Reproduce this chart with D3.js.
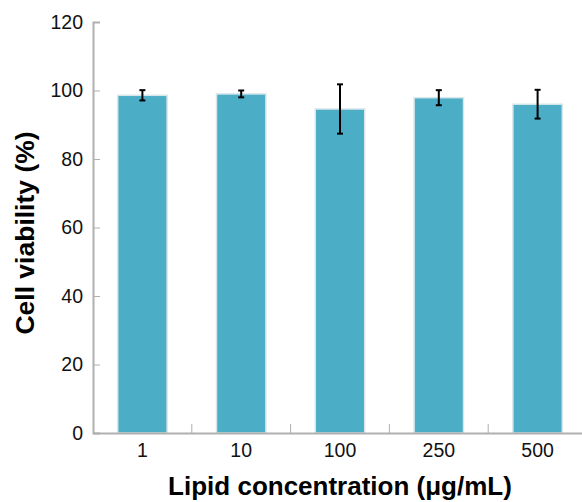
<!DOCTYPE html>
<html>
<head>
<meta charset="utf-8">
<script src="https://cdn.jsdelivr.net/npm/d3@7"></script>
<style>
  body { margin: 0; background: #fff; }
  text { font-family: "Liberation Sans", Arial, sans-serif; }
</style>
</head>
<body>
<div id="chart"></div>
<script>
var categories = ["1", "10", "100", "250", "500"];
var viability = [98.6, 99.0, 94.6, 97.9, 96.0];
var errors = [1.5, 1.0, 7.2, 2.2, 4.2];
var yTicks = [0, 20, 40, 60, 80, 100, 120];

var data = categories.map(function (c, i) {
    return { cat: c, value: viability[i], err: errors[i] };
});

var width = 582, height = 502;
var margin = { top: 22, right: -5, bottom: 69, left: 93 };

var svg = d3.select("#chart").append("svg")
    .attr("width", width)
    .attr("height", height);

var x = d3.scaleBand()
    .domain(categories)
    .range([margin.left, width - margin.right])
    .paddingInner(0.5)
    .paddingOuter(0.25);

var y = d3.scaleLinear()
    .domain([0, 120])
    .range([height - margin.bottom, margin.top]);

// bars
svg.append("g").selectAll("rect")
    .data(data)
    .enter()
    .append("rect")
    .attr("x", function (d) { return x(d.cat); })
    .attr("y", function (d) { return y(d.value); })
    .attr("width", x.bandwidth())
    .attr("height", function (d) { return y(0) - y(d.value); })
    .attr("fill", "#4badc6")
    .attr("stroke", "#d8e6ea")
    .attr("stroke-width", 1.5);

// error bars
var eb = svg.append("g").attr("stroke", "#000").attr("stroke-width", 2);
data.forEach(function (d) {
    var cx = x(d.cat) + x.bandwidth() / 2;
    eb.append("line")
        .attr("x1", cx).attr("x2", cx)
        .attr("y1", y(d.value + d.err)).attr("y2", y(d.value - d.err));
    [d.value + d.err, d.value - d.err].forEach(function (v) {
        eb.append("line")
            .attr("x1", cx - 3).attr("x2", cx + 3)
            .attr("y1", y(v)).attr("y2", y(v));
    });
});

// y axis - ticks point inward
var yAxis = svg.append("g")
    .attr("transform", "translate(" + margin.left + ",0)")
    .call(d3.axisLeft(y).tickValues(yTicks).tickSize(-7).tickPadding(10));
yAxis.select(".domain").attr("stroke", "#b0b0b0").attr("stroke-width", 2);
yAxis.selectAll(".tick line").attr("stroke", "#b0b0b0");
yAxis.selectAll("text").attr("font-size", 19.5).attr("fill", "#111");

// x axis
var xAxis = svg.append("g")
    .attr("transform", "translate(0," + y(0) + ")")
    .call(d3.axisBottom(x).tickSize(0).tickPadding(10));
xAxis.select(".domain").attr("stroke", "#b0b0b0").attr("stroke-width", 2);
xAxis.selectAll("text").attr("font-size", 19.5).attr("fill", "#111");

// separators between categories
var step = x.step();
svg.append("g").selectAll("line")
    .data(categories.slice(1))
    .enter()
    .append("line")
    .attr("x1", function (d) { return x(d) - (step - x.bandwidth()) / 2; })
    .attr("x2", function (d) { return x(d) - (step - x.bandwidth()) / 2; })
    .attr("y1", y(0))
    .attr("y2", y(0) - 9)
    .attr("stroke", "#b0b0b0");

// titles
svg.append("text")
    .attr("x", 340)
    .attr("y", 495)
    .attr("text-anchor", "middle")
    .attr("font-size", 26)
    .attr("font-weight", "bold")
    .text("Lipid concentration (μg/mL)");

svg.append("text")
    .attr("transform", "translate(34," + 233 + ") rotate(-90)")
    .attr("text-anchor", "middle")
    .attr("font-size", 26.5)
    .attr("font-weight", "bold")
    .text("Cell viability (%)");
</script>
</body>
</html>
